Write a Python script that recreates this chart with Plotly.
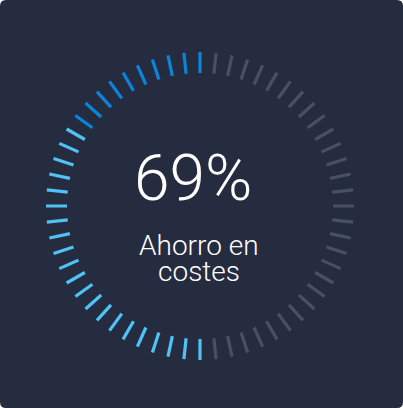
import plotly.graph_objects as go

# ---- data ----
total_ticks = 60
segment_names = ["dark", "light", "rest"]
segment_counts = [10, 21, 29]
segment_colors = ["#0b84d9", "#4fc3f6", "#485064"]
value_label = "69%"
caption_lines = ["Ahorro en", "costes"]
r_inner, r_outer = 133, 154

step = 360 / total_ticks
fig = go.Figure()
start = 0
for name, count, color in zip(segment_names, segment_counts, segment_colors):
    rs, ths = [], []
    for i in range(start, start + count):
        rs += [r_inner, r_outer, None]
        ths += [i * step, i * step, None]
    start += count
    fig.add_trace(go.Scatterpolar(r=rs, theta=ths, mode="lines", name=name,
                                  line=dict(color=color, width=3.2),
                                  hoverinfo="skip", showlegend=False, connectgaps=False))

W, H = 403, 408
cx, cy, R = 200, 206, 155
fig.update_layout(
    width=W, height=H, margin=dict(l=0, r=0, t=0, b=0),
    paper_bgcolor="white", plot_bgcolor="rgba(0,0,0,0)",
    polar=dict(
        domain=dict(x=[(cx - R) / W, (cx + R) / W], y=[(H - cy - R) / H, (H - cy + R) / H]),
        bgcolor="rgba(0,0,0,0)",
        radialaxis=dict(range=[0, R], visible=False, showgrid=False),
        angularaxis=dict(rotation=90, direction="counterclockwise", visible=False,
                         showgrid=False, showline=False, showticklabels=False, ticks=""),
    ),
    font=dict(family="Roboto", color="white"),
)

rx, ry = 6 / W, 6 / H
path = (f"M {rx},0 L {1-rx},0 Q 1,0 1,{ry} L 1,{1-ry} Q 1,1 {1-rx},1 "
        f"L {rx},1 Q 0,1 0,{1-ry} L 0,{ry} Q 0,0 {rx},0 Z")
fig.add_shape(type="path", path=path, xref="paper", yref="paper",
              fillcolor="#262c40", line=dict(width=0), layer="below")

FONT = "Roboto Light, Roboto"
fig.add_annotation(text=value_label, x=193 / W, y=1 - 178 / H, xref="paper", yref="paper",
                   xanchor="center", yanchor="middle", showarrow=False,
                   font=dict(size=64, color="white", family=FONT, weight=300))
fig.add_annotation(text=caption_lines[0], x=199 / W, y=1 - 244.5 / H, xref="paper", yref="paper",
                   xanchor="center", yanchor="middle", showarrow=False, height=24, valign="middle",
                   font=dict(size=28, color="white", family=FONT, weight=300))
fig.add_annotation(text=caption_lines[1], x=199 / W, y=1 - 270.5 / H, xref="paper", yref="paper",
                   xanchor="center", yanchor="middle", showarrow=False, height=24, valign="middle",
                   font=dict(size=28, color="white", family=FONT, weight=300))

fig.write_html("out.html", config={"displayModeBar": False, "staticPlot": True},
               post_script="document.body.style.margin='0';document.body.style.overflow='hidden';")
